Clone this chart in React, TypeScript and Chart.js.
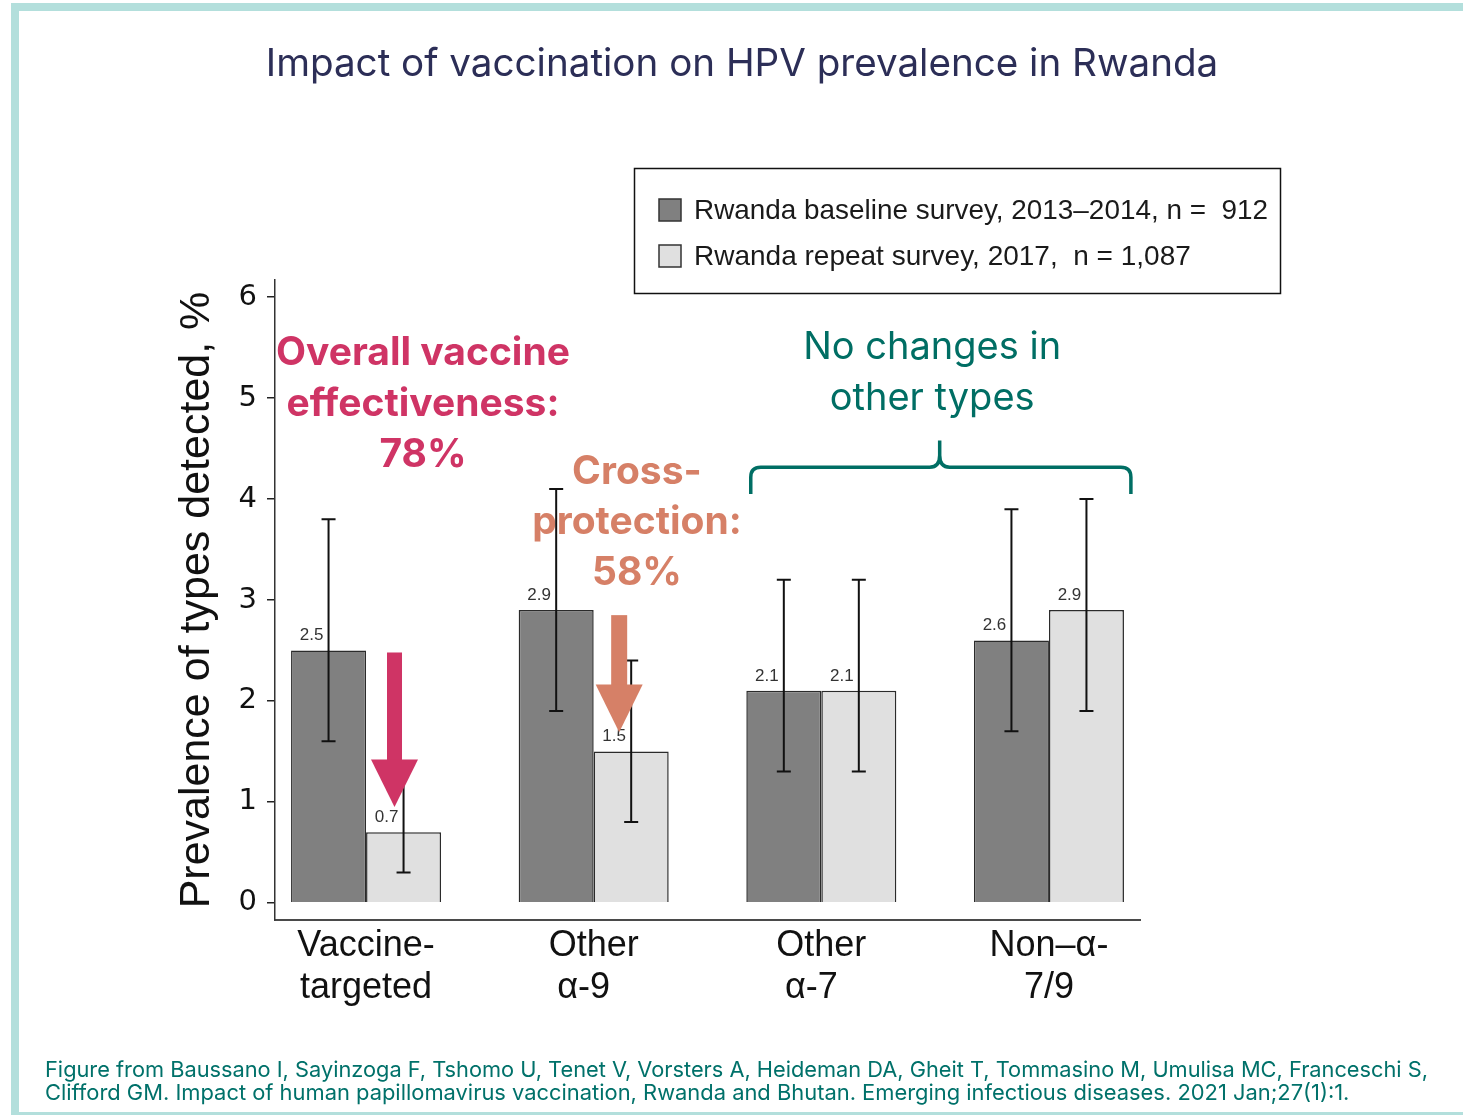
import React, { useEffect, useRef } from 'react';
import { Chart, registerables } from 'chart.js';

Chart.register(...registerables);

// ---------- data ----------
const categories: string[][] = [
  ['Vaccine-', 'targeted'],
  ['Other', 'α-9  '],
  ['Other', 'α-7  '],
  ['Non–α-', '7/9'],
];
const seriesNames = [
  'Rwanda baseline survey, 2013–2014, n =  912',
  'Rwanda repeat survey, 2017,  n = 1,087',
];
const baselineValues = [2.5, 2.9, 2.1, 2.6];
const repeatValues = [0.7, 1.5, 2.1, 2.9];
const baselineLower = [1.6, 1.9, 1.3, 1.7];
const baselineUpper = [3.8, 4.1, 3.2, 3.9];
const repeatLower = [0.3, 0.8, 1.3, 1.9];
const repeatUpper = [1.3, 2.4, 3.2, 4.0];
const yTickValues = [0, 1, 2, 3, 4, 5, 6];

const titleText = 'Impact of vaccination on HPV prevalence in Rwanda';
const yAxisTitle = 'Prevalence of types detected, %';
const effectivenessLines = ['Overall vaccine', 'effectiveness:', '78%'];
const crossProtectionLines = ['Cross-', 'protection:', '58%'];
const noChangeLines = ['No changes in', 'other types'];
const footerLines = [
  'Figure from Baussano I, Sayinzoga F, Tshomo U, Tenet V, Vorsters A, Heideman DA, Gheit T, Tommasino M, Umulisa MC, Franceschi S,',
  'Clifford GM. Impact of human papillomavirus vaccination, Rwanda and Bhutan. Emerging infectious diseases. 2021 Jan;27(1):1.',
];

// ---------- styles ----------
const DARK_BAR = '#808080';
const LIGHT_BAR = '#e0e0e0';
const PINK = '#cf3465';
const ORANGE = '#d68067';
const TEAL = '#006e64';
const TITLE_COLOR = '#2c2e57';
const FRAME = '#b3dfdc';
const SANS = "'Liberation Sans', sans-serif";

function drawArrow(ctx: CanvasRenderingContext2D, x: number, yTop: number, yHead: number, yTip: number, shaft: number, head: number, color: string) {
  ctx.save();
  ctx.fillStyle = color;
  ctx.fillRect(x - shaft / 2, yTop, shaft, yHead - yTop + 1);
  ctx.beginPath();
  ctx.moveTo(x - head / 2, yHead);
  ctx.lineTo(x + head / 2, yHead);
  ctx.lineTo(x, yTip);
  ctx.closePath();
  ctx.fill();
  ctx.restore();
}

function drawLines(ctx: CanvasRenderingContext2D, lines: string[], x: number, y: number, step: number, font: string, color: string) {
  ctx.save();
  ctx.font = font;
  ctx.fillStyle = color;
  ctx.textAlign = 'center';
  ctx.textBaseline = 'middle';
  lines.forEach((t, i) => ctx.fillText(t, x, y + i * step));
  ctx.restore();
}

const decorPlugin = {
  id: 'decor',
  beforeDraw(chart: any) {
    const ctx: CanvasRenderingContext2D = chart.ctx;
    ctx.save();
    ctx.fillStyle = '#ffffff';
    ctx.fillRect(0, 0, chart.width, chart.height);
    // frame
    ctx.fillStyle = FRAME;
    ctx.fillRect(11, 3, chart.width - 11, 8);
    ctx.fillRect(11, 3, 8, chart.height - 5);
    ctx.fillRect(11, chart.height - 3, chart.width - 11, 3);
    // title
    ctx.font = "400 38.6px Inter, 'Noto Sans', sans-serif";
    ctx.fillStyle = TITLE_COLOR;
    ctx.textAlign = 'center';
    ctx.textBaseline = 'middle';
    ctx.fillText(titleText, 742, 64, 955);
    // footer
    ctx.font = "400 21.9px Inter, 'Noto Sans', sans-serif";
    ctx.fillStyle = '#00716a';
    ctx.textAlign = 'left';
    ctx.fillText(footerLines[0], 45, 1070, 1383);
    ctx.fillText(footerLines[1], 45, 1093, 1310);
    ctx.restore();
  },
  beforeDatasetsDraw(chart: any) {
    const ctx: CanvasRenderingContext2D = chart.ctx;
    const xs = chart.scales.x;
    const ys = chart.scales.y;
    drawLines(ctx, effectivenessLines, xs.getPixelForValue(0.25), ys.getPixelForValue(5.446), 51, "700 39px Inter, sans-serif", PINK);
    drawLines(ctx, crossProtectionLines, xs.getPixelForValue(1.19), ys.getPixelForValue(4.266), 50.5, "700 39px Inter, sans-serif", ORANGE);
    drawLines(ctx, noChangeLines, xs.getPixelForValue(2.487), ys.getPixelForValue(5.496), 51, "400 38px Inter, sans-serif", TEAL);
  },
  afterDatasetsDraw(chart: any) {
    const ctx: CanvasRenderingContext2D = chart.ctx;
    const xs = chart.scales.x;
    const ys = chart.scales.y;
    const values = [baselineValues, repeatValues];
    const lows = [baselineLower, repeatLower];
    const highs = [baselineUpper, repeatUpper];
    ctx.save();
    // error bars
    ctx.strokeStyle = '#111';
    ctx.lineWidth = 2;
    for (let d = 0; d < 2; d++) {
      const meta = chart.getDatasetMeta(d);
      meta.data.forEach((bar: any, i: number) => {
        const x = bar.x;
        const y1 = ys.getPixelForValue(lows[d][i]);
        const y2 = ys.getPixelForValue(highs[d][i]);
        ctx.beginPath();
        ctx.moveTo(x, y1);
        ctx.lineTo(x, y2);
        ctx.moveTo(x - 7, y1);
        ctx.lineTo(x + 7, y1);
        ctx.moveTo(x - 7, y2);
        ctx.lineTo(x + 7, y2);
        ctx.stroke();
      });
    }
    // value labels
    ctx.font = "17px 'Liberation Sans', sans-serif";
    ctx.fillStyle = '#333';
    ctx.textAlign = 'center';
    ctx.textBaseline = 'middle';
    for (let d = 0; d < 2; d++) {
      const meta = chart.getDatasetMeta(d);
      meta.data.forEach((bar: any, i: number) => {
        ctx.fillText(values[d][i].toFixed(1), bar.x - 17, bar.y - 15);
      });
    }
    ctx.restore();
    // arrows
    drawArrow(ctx, xs.getPixelForValue(0.125), ys.getPixelForValue(2.48), ys.getPixelForValue(1.419), ys.getPixelForValue(0.95), 15, 47, PINK);
    drawArrow(ctx, xs.getPixelForValue(1.112), ys.getPixelForValue(2.85), ys.getPixelForValue(2.163), ys.getPixelForValue(1.69), 16, 47, ORANGE);
    // brace
    const bl = xs.getPixelForValue(1.69);
    const br = xs.getPixelForValue(3.36);
    const bm = xs.getPixelForValue(2.52);
    const by = ys.getPixelForValue(4.315);
    const bEnd = ys.getPixelForValue(4.05);
    const bPeak = ys.getPixelForValue(4.58);
    const r = 10;
    ctx.save();
    ctx.strokeStyle = TEAL;
    ctx.lineWidth = 3.5;
    ctx.beginPath();
    ctx.moveTo(bl, bEnd);
    ctx.lineTo(bl, by + r);
    ctx.quadraticCurveTo(bl, by, bl + r, by);
    ctx.lineTo(bm - 10, by);
    ctx.quadraticCurveTo(bm, by, bm, by - 12);
    ctx.lineTo(bm, bPeak);
    ctx.moveTo(bm, by - 12);
    ctx.quadraticCurveTo(bm, by, bm + 10, by);
    ctx.lineTo(br - r, by);
    ctx.quadraticCurveTo(br, by, br, by + r);
    ctx.lineTo(br, bEnd);
    ctx.stroke();
    ctx.restore();
  },
  afterDraw(chart: any) {
    const ctx: CanvasRenderingContext2D = chart.ctx;
    ctx.save();
    // legend box
    ctx.strokeStyle = '#111';
    ctx.lineWidth = 1.5;
    ctx.strokeRect(634.5, 168.5, 646, 125);
    const ys = [210, 256];
    chart.data.datasets.forEach((ds: any, i: number) => {
      ctx.fillStyle = ds.backgroundColor;
      ctx.fillRect(659, ys[i] - 11, 22, 22);
      ctx.strokeStyle = '#333';
      ctx.lineWidth = 1.5;
      ctx.strokeRect(659, ys[i] - 11, 22, 22);
      ctx.fillStyle = '#1a1a1a';
      ctx.font = "28px 'Liberation Sans', sans-serif";
      ctx.textAlign = 'left';
      ctx.textBaseline = 'middle';
      ctx.fillText(ds.label, 694, ys[i] + 1, 574);
    });
    ctx.restore();
  },
};

export default function App() {
  const ref = useRef<HTMLCanvasElement>(null);
  useEffect(() => {
    if (!ref.current) return;
    const chart = new Chart(ref.current, {
      type: 'bar',
      data: {
        datasets: [
          {
            label: seriesNames[0],
            data: baselineValues.map((v, i) => ({ x: i, y: v })),
            backgroundColor: DARK_BAR,
            borderColor: '#2b2b2b',
            borderWidth: 1.5,
            categoryPercentage: 0.659,
            barPercentage: 1,
          },
          {
            label: seriesNames[1],
            data: repeatValues.map((v, i) => ({ x: i, y: v })),
            backgroundColor: LIGHT_BAR,
            borderColor: '#2b2b2b',
            borderWidth: 1.5,
            categoryPercentage: 0.659,
            barPercentage: 1,
          },
        ],
      },
      options: {
        responsive: false,
        animation: false,
        devicePixelRatio: 1,
        layout: { padding: { top: 280, left: 160, right: 323, bottom: 95 } },
        plugins: {
          legend: { display: false },
          tooltip: { enabled: false },
          title: { display: false },
        },
        scales: {
          x: {
            type: 'linear',
            offset: false,
            min: -0.4,
            max: 3.4,
            afterBuildTicks: (axis: any) => {
              axis.ticks = categories.map((_, i) => ({ value: i }));
            },
            afterFit: (axis: any) => {
              axis.height = 100;
            },
            grid: { display: false },
            border: { display: true, color: '#4a4a4a', width: 2 },
            ticks: {
              autoSkip: false,
              maxRotation: 0,
              minRotation: 0,
              padding: -3,
              color: '#111',
              font: { family: SANS, size: 36, lineHeight: 1.167 },
              callback: (v: any) => categories[Math.round(Number(v))] ?? '',
            },
          },
          y: {
            min: -0.17,
            max: 6.17,
            afterBuildTicks: (axis: any) => {
              axis.ticks = yTickValues.map((v) => ({ value: v }));
            },
            afterFit: (axis: any) => {
              axis.width = 115;
            },
            grid: { drawOnChartArea: false, drawTicks: true, tickLength: 8, color: '#222', lineWidth: 1.5 },
            border: { display: true, color: '#333', width: 1.5 },
            ticks: {
              padding: 10,
              color: '#111',
              font: { family: "'DejaVu Sans', sans-serif", size: 29 },
              callback: (v: any) => String(v),
            },
            title: {
              display: true,
              text: yAxisTitle,
              color: '#111',
              font: { family: SANS, size: 43, lineHeight: 1.2 },
              padding: { top: 11, bottom: 0 },
            },
          },
        },
      },
      plugins: [decorPlugin],
    } as any);
    return () => chart.destroy();
  }, []);
  return (
    <div style={{ position: 'absolute', left: 0, top: 0, width: 1463, height: 1115, background: '#fff' }}>
      <canvas ref={ref} width={1463} height={1115} style={{ display: 'block', width: 1463, height: 1115 }} />
    </div>
  );
}
